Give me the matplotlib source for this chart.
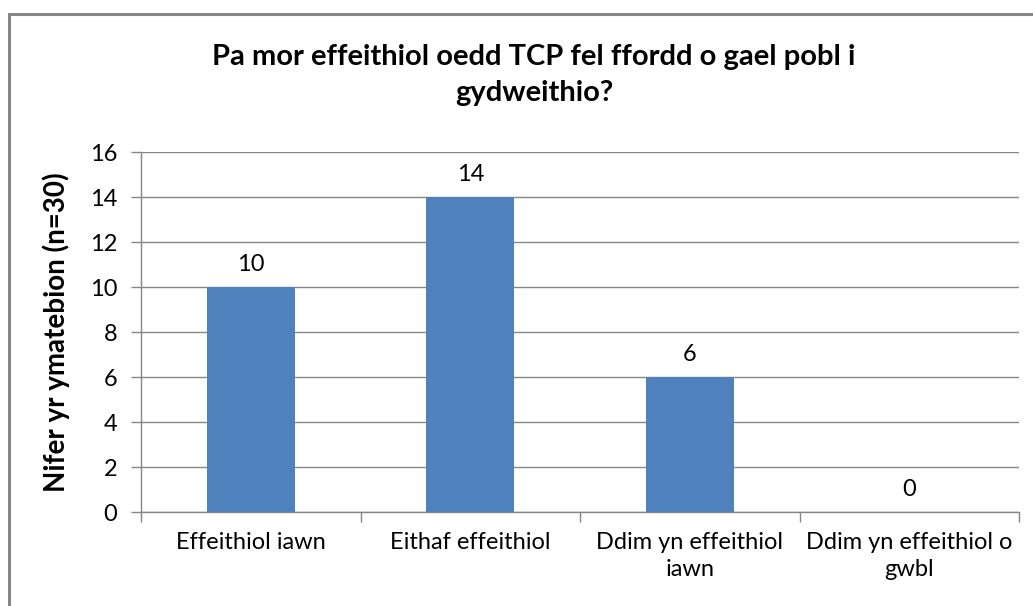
import matplotlib.pyplot as plt
import numpy as np
from matplotlib.patches import Rectangle

categories = ["Effeithiol iawn", "Eithaf effeithiol", "Ddim yn effeithiol\niawn", "Ddim yn effeithiol o\ngwbl"]
counts = [10, 14, 6, 0]
yticks = [0, 2, 4, 6, 8, 10, 12, 14, 16]

plt.rcParams['font.family'] = ['Lato', 'DejaVu Sans']

fig = plt.figure(figsize=(10.33, 6.06), dpi=100)
ax = fig.add_axes([0.1365, 0.155, 0.85, 0.594])

# frame round the whole chart (cut off at right and bottom)
fig.patches.append(Rectangle((9 / 1033, -0.05), 1.1, 1.05 - 14 / 606, transform=fig.transFigure,
                             fill=False, edgecolor='#868686', linewidth=2.2, zorder=0))

x = np.arange(len(categories))
bars = ax.bar(x, counts, width=0.4, color='#4F81BD', zorder=3)
for xi, v in zip(x, counts):
    ax.annotate(str(v), (xi, v), xytext=(0, 9), textcoords='offset points',
                ha='center', va='bottom', fontsize=17)

ax.set_xlim(-0.5, len(categories) - 0.5)
ax.set_ylim(0, 16)
ax.set_yticks(yticks)
ax.set_xticks(x)
ax.set_xticklabels(categories, fontsize=17, linespacing=1.4)
ax.set_xticks(np.arange(len(categories) + 1) - 0.5, minor=True)
ax.tick_params(axis='x', which='major', length=0, pad=14)
ax.tick_params(axis='x', which='minor', length=7, color='#868686', width=1)
ax.tick_params(axis='y', length=7, color='#868686', width=1, labelsize=17, pad=10)

ax.grid(axis='y', color='#868686', linewidth=1, zorder=0)
ax.set_axisbelow(True)
for s in ['top', 'right']:
    ax.spines[s].set_visible(False)
for s in ['left', 'bottom']:
    ax.spines[s].set_color('#868686')
    ax.spines[s].set_linewidth(1)

ax.set_ylabel('Nifer yr ymatebion (n=30)', fontsize=20, fontweight='bold', labelpad=14)
fig.text(0.517, 0.876, 'Pa mor effeithiol oedd TCP fel ffordd o gael pobl i\ngydweithio?',
         ha='center', va='center', fontsize=21, fontweight='bold', linespacing=1.45)

fig.savefig('out.png', dpi=100)
